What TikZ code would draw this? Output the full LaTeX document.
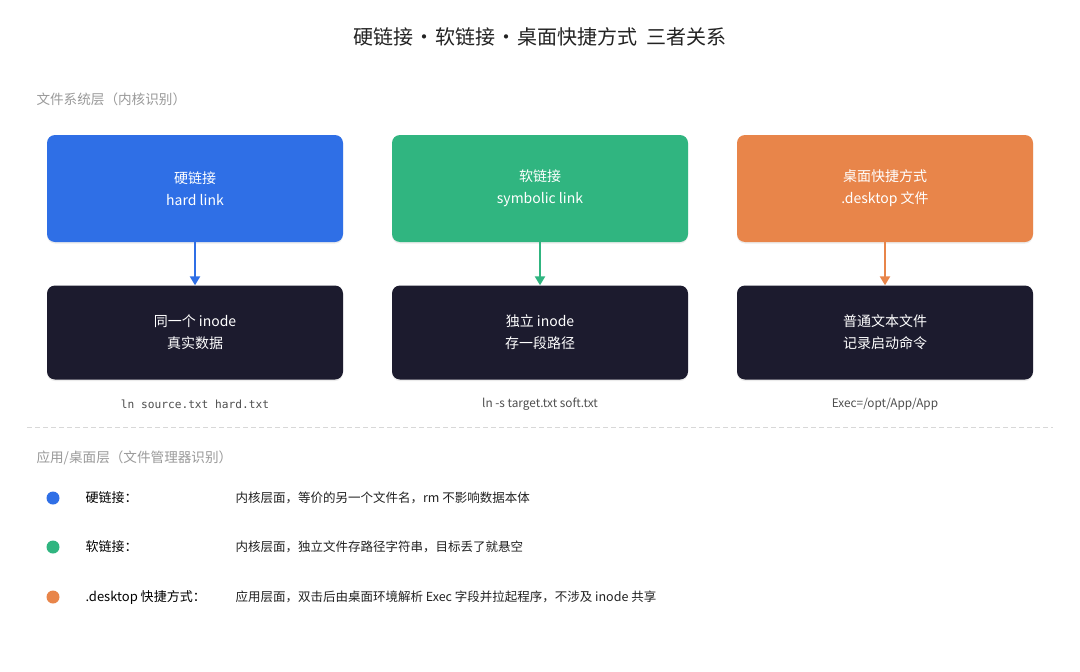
\documentclass[tikz,border=0pt]{standalone}
\usepackage{fontspec}
\setmainfont{Noto Sans CJK SC}
\newfontfamily\cjk{Noto Sans CJK SC}
\newfontfamily\monof{DejaVu Sans Mono}
\usetikzlibrary{arrows.meta,shadows}
\definecolor{cblue}{HTML}{2F6FE6}
\definecolor{cgreen}{HTML}{30B580}
\definecolor{corange}{HTML}{E8854A}
\definecolor{cdark}{HTML}{1C1B2E}
\definecolor{cgray}{HTML}{9A9A9A}
\definecolor{ctext}{HTML}{222222}
\definecolor{cline}{HTML}{D8D8D8}
\tikzset{
  x=1pt,y=-1pt,
  topbox/.style={rounded corners=8pt,minimum width=296pt,minimum height=107pt,draw=none,text=white,align=center,font=\fontsize{14}{22}\selectfont,drop shadow={shadow xshift=0pt,shadow yshift=-1.5pt,opacity=0.15}},
  darkbox/.style={topbox,fill=cdark,minimum height=94pt},
  conn/.style={-{Triangle[length=9pt,width=10pt]},line width=2.4pt},
  code/.style={font=\fontsize{12}{15}\selectfont,text=ctext!80},
  sect/.style={font=\fontsize{13.6}{15}\selectfont,text=cgray,anchor=west},
  dot/.style={circle,minimum size=13pt,inner sep=0pt},
  lbl/.style={anchor=west,font=\fontsize{13}{15}\selectfont,text=black},
  desc/.style={anchor=west,font=\fontsize{12.5}{15}\selectfont,text=ctext},
}
\begin{document}
\begin{tikzpicture}
\fill[white] (0,0) rectangle (1080,672);
\useasboundingbox (0,0) rectangle (1080,672);
\node[font=\fontsize{20}{24}\selectfont,text=ctext] (title) at (540,37) {硬链接\hspace{1pt}·\hspace{1pt}软链接\hspace{1pt}·\hspace{1pt}桌面快捷方式\ \ 三者关系};
\node[sect] (s1) at (33,99) {文件系统层（内核识别）};

\node[topbox,fill=cblue] (hard) at (195,188.5) {硬链接\\hard link};
\node[topbox,fill=cgreen] (soft) at (540,188.5) {软链接\\symbolic link};
\node[topbox,fill=corange] (desk) at (885,188.5) {桌面快捷方式\\.desktop 文件};

\node[darkbox] (hardi) at (195,332.5) {同一个 inode\\真实数据};
\node[darkbox] (softi) at (540,332.5) {独立 inode\\存一段路径};
\node[darkbox] (deski) at (885,332.5) {普通文本文件\\记录启动命令};

\draw[conn,cblue] (hard.south) -- (hardi.north);
\draw[conn,cgreen] (soft.south) -- (softi.north);
\draw[conn,corange] (desk.south) -- (deski.north);

\node[code,font=\monof\fontsize{11.2}{15}\selectfont] (c1) at (195,404) {ln source.txt hard.txt};
\node[code,font=\fontsize{11.8}{15}\selectfont] (c2) at (540,404) {ln -s target.txt soft.txt};
\node[code,font=\fontsize{11.8}{15}\selectfont] (c3) at (885,404) {Exec=/opt/App/App};

\coordinate (dl) at (27,427);
\coordinate (dr) at (1053,427);
\draw[cline,line width=1pt,dash pattern=on 5pt off 3pt] (dl) -- (dr);

\node[sect] (s2) at (33,458) {应用/桌面层（文件管理器识别）};

\node[dot,fill=cblue] (d1) at (53,498) {};
\node[lbl] (l1) at (82,498) {硬链接：};
\node[desc] (t1) at (232,498) {内核层面，等价的另一个文件名，rm 不影响数据本体};

\node[dot,fill=cgreen] (d2) at (53,547) {};
\node[lbl] (l2) at (82,547) {软链接：};
\node[desc] (t2) at (232,547) {内核层面，独立文件存路径字符串，目标丢了就悬空};

\node[dot,fill=corange] (d3) at (53,597) {};
\node[lbl] (l3) at (82,597) {.desktop 快捷方式：};
\node[desc] (t3) at (232,597) {应用层面，双击后由桌面环境解析 Exec 字段并拉起程序，不涉及 inode 共享};
\end{tikzpicture}
\end{document}
